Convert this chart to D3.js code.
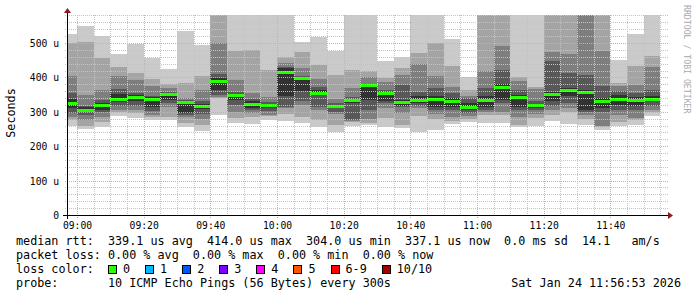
<!DOCTYPE html>
<html>
<head>
<meta charset="utf-8">
<script src="https://cdn.jsdelivr.net/npm/d3@7"></script>
<style>
body { margin: 0; background: #fff; }
text { font-family: "DejaVu Sans Mono", monospace; }
</style>
</head>
<body>
<svg id="chart" width="697" height="297"></svg>
<script>
// 5 minute slots (start time of each step)
const slots = ["08:55","09:00","09:05","09:10","09:15","09:20","09:25","09:30","09:35","09:40",
  "09:45","09:50","09:55","10:00","10:05","10:10","10:15","10:20","10:25","10:30",
  "10:35","10:40","10:45","10:50","10:55","11:00","11:05","11:10","11:15","11:20",
  "11:25","11:30","11:35","11:40","11:45","11:50"];

// 10 sorted pings per slot, in microseconds
const pings = [
  [260,275,284,296,310,336,356,404,499,526],
  [249,258,276,292,300,314,318,349,504,548],
  [257,271,286,300,305,326,334,363,457,520],
  [289,300,305,317,328,352,366,404,431,468],
  [281,296,305,316,330,350,356,393,414,497],
  [276,286,291,303,315,342,346,375,395,456],
  [276,284,315,325,334,354,359,368,381,424],
  [255,267,286,290,296,330,334,339,383,535],
  [245,262,280,295,308,322,330,362,404,494],
  [290,339,342,348,362,397,410,499,600,620],
  [268,281,300,320,335,352,359,393,478,600],
  [265,286,296,305,310,330,336,356,480,600],
  [275,288,290,302,310,324,328,342,422,600],
  [272,294,310,315,346,426,430,443,460,600],
  [268,286,320,330,360,400,405,426,475,502],
  [257,276,305,315,348,362,373,394,436,518],
  [242,262,295,300,310,320,325,336,407,478],
  [259,271,273,276,326,338,342,370,422,600],
  [262,266,280,305,334,380,382,402,420,600],
  [257,281,310,325,332,358,363,388,397,449],
  [252,262,296,315,318,335,378,407,426,460],
  [242,288,310,318,325,345,359,439,472,600],
  [247,278,294,305,315,345,368,404,499,600],
  [264,274,284,305,315,340,355,373,433,512],
  [271,280,288,296,305,325,339,345,363,402],
  [266,291,300,305,315,345,368,420,600,620],
  [268,290,300,327,334,380,421,491,600,620],
  [257,262,286,305,315,350,363,390,402,600],
  [259,281,294,305,310,322,332,365,371,600],
  [274,290,305,318,330,358,449,475,600,620],
  [265,300,310,325,345,368,412,468,600,620],
  [262,280,290,300,305,362,407,600,620,640],
  [248,255,259,300,310,340,375,478,600,620],
  [259,271,290,305,320,350,360,375,385,451],
  [262,275,281,305,318,342,355,378,433,526],
  [288,300,305,318,332,345,362,431,462,600]
];

const median = [323,304,317,337,341,336,349,327,315,388,346,322,318,414,397,354,315,334,376,352,
  327,332,336,331,313,334,371,342,318,351,363,357,331,336,332,337];

const yTicks = [0, 100, 200, 300, 400, 500];
const yMax = 581.4;
const timeStart = "2026-01-24 08:57", timeEnd = "2026-01-24 11:57";

const lossLabels = ["0", "1", "2", "3", "4", "5", "6-9", "10/10"];
const lossColors = ["#26ff00", "#00b8ff", "#0059ff", "#7e00ff", "#ff00ff", "#ff5500", "#ff0000", "#a10000"];

const legendRows = [
  "median rtt:  339.1 us avg  414.0 us max  304.0 us min  337.1 us now  0.0 ms sd  14.1   am/s",
  "packet loss: 0.00 % avg  0.00 % max  0.00 % min  0.00 % now",
  "loss color:",
  "probe:       10 ICMP Echo Pings (56 Bytes) every 300s"
];
const stamp = "Sat Jan 24 11:56:53 2026";

// smoke shades, outer pair to inner pair
const shades = ["#cacaca", "#a4a4a4", "#7e7e7e", "#585858", "#323232"];

const pLeft = 67, pRight = 667, pTop = 15, pBottom = 215;
const parse = d3.timeParse("%Y-%m-%d %H:%M");
const svg = d3.select("#chart");

const x = d3.scaleTime().domain([parse(timeStart), parse(timeEnd)]).range([pLeft, pRight]);
const y = d3.scaleLinear().domain([0, yMax]).range([pBottom, pTop]);

svg.append("clipPath").attr("id", "plot")
  .append("rect").attr("x", pLeft).attr("y", pTop).attr("width", pRight - pLeft).attr("height", pBottom - pTop);

const data = slots.map((s, i) => ({
  t0: parse("2026-01-24 " + s),
  t1: d3.timeMinute.offset(parse("2026-01-24 " + s), 5),
  p: pings[i],
  med: median[i]
}));

let g = svg.append("g").attr("clip-path", "url(#plot)");

// smoke bands: pair k spans ping k .. ping 9-k
shades.forEach(function (c, k) {
  g.selectAll(".band" + k)
    .data(data)
    .enter()
    .append("rect")
    .attr("x", d => x(d.t0))
    .attr("width", d => x(d.t1) - x(d.t0))
    .attr("y", d => y(d.p[9 - k]))
    .attr("height", d => y(d.p[k]) - y(d.p[9 - k]))
    .attr("fill", c)
    .attr("shape-rendering", "crispEdges");
});

// median, loss 0 colour
g.selectAll(".med")
  .data(data)
  .enter()
  .append("rect")
  .attr("x", d => x(d.t0))
  .attr("width", d => x(d.t1) - x(d.t0))
  .attr("y", d => y(d.med) - 1.5)
  .attr("height", 3)
  .attr("fill", lossColors[0])
  .attr("shape-rendering", "crispEdges");

// grid on top
let grid = svg.append("g");
let minorT = d3.timeMinute.every(5).range(x.domain()[0], x.domain()[1]);
let majorT = d3.timeMinute.every(20).range(x.domain()[0], x.domain()[1]);
let minorY = d3.range(20, yMax, 20).filter(v => v % 100 != 0);
let majorY = yTicks.filter(v => v > 0);

grid.selectAll(".vmin").data(minorT.filter(t => t.getMinutes() % 20 != 0)).enter().append("line")
  .attr("x1", d => Math.round(x(d)) + 0.5).attr("x2", d => Math.round(x(d)) + 0.5)
  .attr("y1", pTop).attr("y2", pBottom + 2)
  .attr("stroke", "#c4c4c4").attr("stroke-dasharray", "1,1");
grid.selectAll(".hmin").data(minorY).enter().append("line")
  .attr("x1", pLeft - 2).attr("x2", pRight + 2)
  .attr("y1", d => Math.round(y(d)) + 0.5).attr("y2", d => Math.round(y(d)) + 0.5)
  .attr("stroke", "#c4c4c4").attr("stroke-dasharray", "1,1");
grid.selectAll(".vmaj").data(majorT).enter().append("line")
  .attr("x1", d => Math.round(x(d)) + 0.5).attr("x2", d => Math.round(x(d)) + 0.5)
  .attr("y1", pTop).attr("y2", pBottom + 4)
  .attr("stroke", "#eca0a0").attr("stroke-dasharray", "1,1");
grid.selectAll(".hmaj").data(majorY).enter().append("line")
  .attr("x1", pLeft - 2).attr("x2", pRight + 2)
  .attr("y1", d => Math.round(y(d)) + 0.5).attr("y2", d => Math.round(y(d)) + 0.5)
  .attr("stroke", "#eca0a0").attr("stroke-dasharray", "1,1");

// axes
let xAxis = d3.axisBottom(x).ticks(d3.timeMinute.every(20)).tickFormat(d3.timeFormat("%H:%M")).tickSize(0).tickPadding(7);
let xg = svg.append("g").attr("transform", "translate(0," + pBottom + ")").call(xAxis);
xg.select(".domain").remove();
xg.selectAll("text").attr("font-family", "DejaVu Sans Mono").attr("font-size", "9.7px").attr("fill", "#000");

let yAxis = d3.axisLeft(y).tickValues(yTicks).tickFormat(d => d == 0 ? "0" : d + " u").tickSize(0).tickPadding(8);
let yg = svg.append("g").attr("transform", "translate(" + pLeft + ",0)").call(yAxis);
yg.select(".domain").remove();
yg.selectAll("text").attr("font-family", "DejaVu Sans Mono").attr("font-size", "9.7px").attr("fill", "#000").attr("dy", "0.36em");

svg.append("line").attr("x1", pLeft - 4).attr("x2", 668).attr("y1", pBottom + 0.5).attr("y2", pBottom + 0.5).attr("stroke", "#000");
svg.append("line").attr("x1", pLeft + 0.5).attr("x2", pLeft + 0.5).attr("y1", pBottom + 4).attr("y2", 13).attr("stroke", "#000");
svg.append("path").attr("d", "M668,212 L673,215.5 L668,219 Z").attr("fill", "#8b1a1a");
svg.append("path").attr("d", "M64,13 L67.5,8 L71,13 Z").attr("fill", "#8b1a1a");

// axis title and watermark
svg.append("text").attr("transform", "translate(15,113) rotate(-90)").attr("text-anchor", "middle")
  .attr("font-size", "11.75px").text("Seconds");
svg.append("text").attr("transform", "translate(684,5) rotate(90)")
  .attr("font-size", "8.2px").attr("fill", "#aaaaaa").text("RRDTOOL / TOBI OETIKER");

// legend
const charW = 7.08, lx = 16;
svg.selectAll(".leg").data(legendRows).enter().append("text")
  .attr("x", lx).attr("y", (d, i) => 245 + i * 14)
  .attr("font-size", "11.75px").style("white-space", "pre").text(d => d);
svg.append("text").attr("x", 681).attr("y", 287).attr("text-anchor", "end")
  .attr("font-size", "11.75px").text(stamp);

let sx = lx + 13 * charW;
lossLabels.forEach(function (lab, i) {
  svg.append("rect").attr("x", Math.round(sx) + 0.5).attr("y", 265.5).attr("width", 8).attr("height", 8)
    .attr("fill", lossColors[i]).attr("stroke", "#000");
  svg.append("text").attr("x", sx + 15).attr("y", 273).attr("font-size", "11.75px").text(lab);
  sx += 15 + lab.length * charW + 15;
});
</script>
</body>
</html>
